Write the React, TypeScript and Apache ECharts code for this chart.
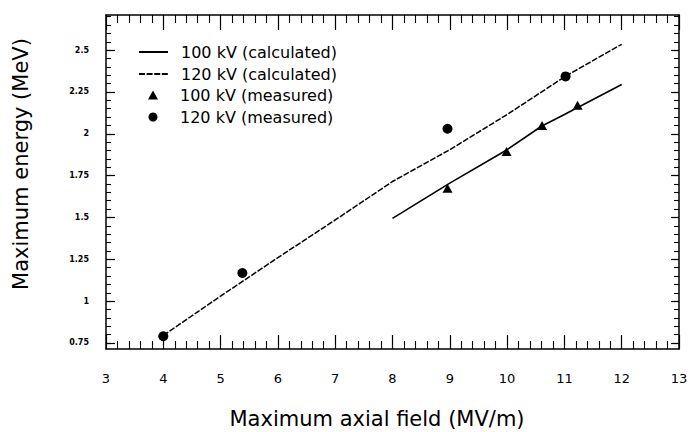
import React, { useEffect, useRef } from "react";
import * as echarts from "echarts";

// ---- data ----
const calc100X = [8, 9, 10, 10.6, 11, 12];
const calc100Y = [1.495, 1.705, 1.905, 2.045, 2.115, 2.295];

const calc120X = [4, 5, 6, 7, 8, 9, 10, 11, 12];
const calc120Y = [0.795, 1.03, 1.26, 1.485, 1.715, 1.905, 2.115, 2.34, 2.535];

const meas100X = [8.96, 9.99, 10.61, 11.23];
const meas100Y = [1.675, 1.895, 2.05, 2.17];

const meas120X = [4.0, 5.38, 8.96, 11.02];
const meas120Y = [0.79, 1.168, 2.03, 2.343];

const seriesNames = [
  "100 kV (calculated)",
  "120 kV (calculated)",
  "100 kV (measured)",
  "120 kV (measured)",
];

const yMajorTicks = [0.75, 1, 1.25, 1.5, 1.75, 2, 2.25, 2.5];
const yMinorTicks: number[] = [];
for (let k = 0; k <= 39; k++) yMinorTicks.push(Math.round((0.75 + k * 0.05) * 100) / 100);

const xTitle = "Maximum axial field (MV/m)";
const yTitle = "Maximum energy (MeV)";

const FONT = "DejaVu Sans";
const INK = "#000";
const CLEAR = "rgba(0,0,0,0)";

const zip = (xs: number[], ys: number[]) => xs.map((x, i) => [x, ys[i]]);

export default function App() {
  const ref = useRef<HTMLDivElement>(null);
  useEffect(() => {
    const chart = echarts.init(ref.current!, null, { renderer: "svg" });
    const yBase = { type: "value", min: 0.714, max: 2.71, splitLine: { show: false } };
    const legendText = {
      color: INK,
      fontFamily: FONT,
      fontSize: 16,
      lineHeight: 22,
    };
    const option: any = {
      animation: false,
      backgroundColor: "#fff",
      grid: { left: 106, right: 16, top: 15, bottom: 83, containLabel: false },
      xAxis: [
        {
          type: "value",
          position: "bottom",
          min: 3,
          max: 13,
          interval: 1,
          splitLine: { show: false },
          axisLine: { show: true, onZero: false, lineStyle: { color: INK, width: 1.5 } },
          axisTick: { show: true, inside: true, length: 14, lineStyle: { color: INK, width: 1.2 } },
          minorTick: { show: true, splitNumber: 5, length: 8, lineStyle: { color: INK, width: 1.1 } },
          axisLabel: { color: INK, fontFamily: FONT, fontSize: 13, margin: 23 },
        },
        {
          type: "value",
          position: "top",
          min: 3,
          max: 13,
          interval: 1,
          splitLine: { show: false },
          axisLine: { show: true, onZero: false, lineStyle: { color: INK, width: 1.5 } },
          axisTick: { show: true, inside: true, length: 15, lineStyle: { color: INK, width: 1.2 } },
          minorTick: { show: true, splitNumber: 5, length: 8, lineStyle: { color: INK, width: 1.1 } },
          axisLabel: { show: false },
        },
      ],
      yAxis: [
        {
          ...yBase,
          position: "left",
          axisLine: { show: true, onZero: false, lineStyle: { color: INK, width: 1.5 } },
          axisTick: { show: true, inside: true, length: 9, customValues: yMajorTicks, lineStyle: { color: INK, width: 1.2 } },
          axisLabel: {
            customValues: yMajorTicks,
            color: INK,
            fontFamily: FONT,
            fontSize: 8,
            fontWeight: "bold",
            margin: 17,
          },
        },
        {
          ...yBase,
          position: "right",
          axisLine: { show: true, onZero: false, lineStyle: { color: INK, width: 1.5 } },
          axisTick: { show: true, inside: true, length: 8, customValues: yMajorTicks, lineStyle: { color: INK, width: 1.2 } },
          axisLabel: { show: false },
        },
        {
          ...yBase,
          position: "left",
          axisLine: { show: false },
          axisTick: { show: true, inside: true, length: 5, customValues: yMinorTicks, lineStyle: { color: INK, width: 1.1 } },
          axisLabel: { show: false },
        },
        {
          ...yBase,
          position: "right",
          axisLine: { show: false },
          axisTick: { show: true, inside: true, length: 5, customValues: yMinorTicks, lineStyle: { color: INK, width: 1.1 } },
          axisLabel: { show: false },
        },
      ],
      legend: [
        {
          orient: "vertical",
          left: 138,
          top: 41,
          padding: 0,
          itemWidth: 29,
          itemHeight: 9,
          itemGap: 0,
          data: seriesNames.slice(0, 2),
          textStyle: { ...legendText, padding: [0, 0, 0, 8] },
        },
        {
          orient: "vertical",
          left: 148,
          top: 84,
          padding: 0,
          itemWidth: 10,
          itemHeight: 9,
          itemGap: 0,
          data: seriesNames.slice(2, 4),
          textStyle: { ...legendText, padding: [0, 0, 0, 17] },
        },
      ],
      series: [
        {
          name: seriesNames[0],
          type: "line",
          xAxisIndex: 0,
          yAxisIndex: 0,
          data: zip(calc100X, calc100Y),
          symbol: "none",
          lineStyle: { color: INK, width: 1.6, type: "solid" },
          itemStyle: { color: CLEAR, borderWidth: 0 },
        },
        {
          name: seriesNames[1],
          type: "line",
          xAxisIndex: 0,
          yAxisIndex: 0,
          data: zip(calc120X, calc120Y),
          symbol: "none",
          lineStyle: { color: INK, width: 1.5, type: [6, 1.6] },
          itemStyle: { color: CLEAR, borderWidth: 0 },
        },
        {
          name: seriesNames[2],
          type: "scatter",
          xAxisIndex: 0,
          yAxisIndex: 0,
          data: zip(meas100X, meas100Y),
          symbol: "triangle",
          symbolSize: [10, 9],
          itemStyle: { color: INK, opacity: 1 },
          z: 5,
        },
        {
          name: seriesNames[3],
          type: "scatter",
          xAxisIndex: 0,
          yAxisIndex: 0,
          data: zip(meas120X, meas120Y),
          symbol: "circle",
          symbolSize: 10,
          itemStyle: { color: INK, opacity: 1 },
          z: 5,
        },
      ],
      graphic: [
        {
          type: "text",
          x: 377,
          y: 419,
          style: {
            text: xTitle,
            fill: INK,
            font: `21px "${FONT}"`,
            textAlign: "center",
            textVerticalAlign: "middle",
          },
        },
        {
          type: "text",
          x: 21,
          y: 164,
          rotation: Math.PI / 2,
          style: {
            text: yTitle,
            fill: INK,
            font: `21px "${FONT}"`,
            textAlign: "center",
            textVerticalAlign: "middle",
          },
        },
      ],
    };
    chart.setOption(option);
    return () => chart.dispose();
  }, []);
  return (
    <div
      ref={ref}
      style={{ position: "fixed", left: 0, top: 0, width: 695, height: 432, background: "#fff" }}
    />
  );
}
